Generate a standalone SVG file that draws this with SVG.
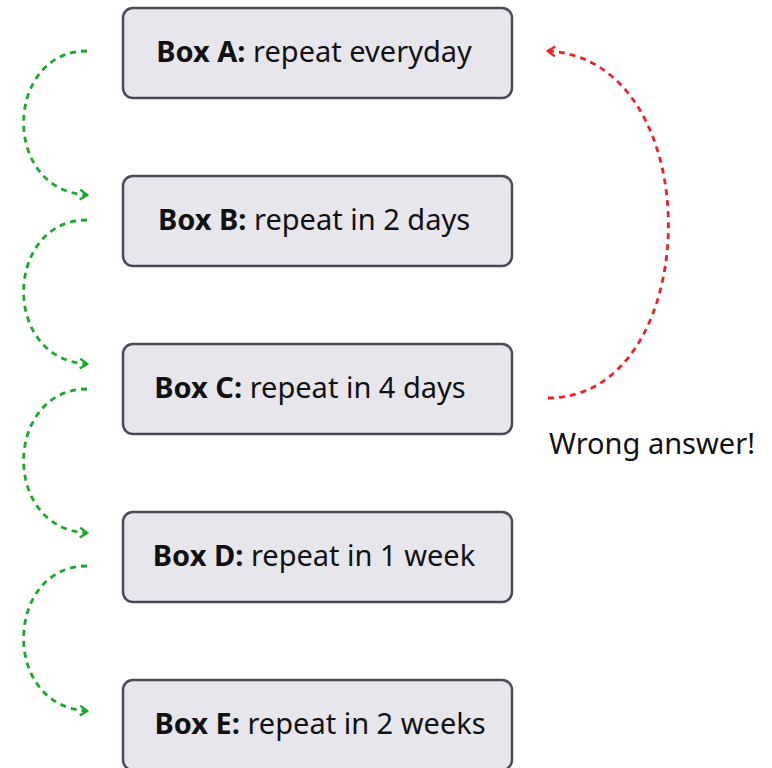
<svg xmlns="http://www.w3.org/2000/svg" width="772" height="768" viewBox="0 0 772 768">
  <style>
    .box rect { fill: #e7e6ed; stroke: #4e4756; stroke-width: 2.5; }
    .box text { font-family: "Noto Sans", "Open Sans", sans-serif; font-size: 29px; fill: #111; text-anchor: middle; }
    .box text .b { font-weight: bold; }
    .ok { fill: none; stroke: #1aa82a; stroke-width: 2.8; stroke-dasharray: 6 5; }
    .bad { fill: none; stroke: #f0202a; stroke-width: 2.8; stroke-dasharray: 6 5; }
    .note { font-family: "Noto Sans", "Open Sans", sans-serif; font-size: 29px; fill: #111; }
  </style>
  <defs>
    <marker id="headG" viewBox="0 0 12 12" refX="10" refY="6" markerWidth="12" markerHeight="12" markerUnits="userSpaceOnUse" orient="auto">
      <path d="M3,1 L10,6 L3,11" fill="none" stroke="#1aa82a" stroke-width="2.4"/>
    </marker>
    <marker id="headR" viewBox="0 0 12 12" refX="10" refY="6" markerWidth="12" markerHeight="12" markerUnits="userSpaceOnUse" orient="auto">
      <path d="M3,1 L10,6 L3,11" fill="none" stroke="#f0202a" stroke-width="2.4"/>
    </marker>
  </defs>

  <g id="connectors">
    <path class="ok" d="M87,51 C5,51 0,190 87,195" marker-end="url(#headG)"/>
    <path class="ok" d="M87,220 C5,220 0,359 87,364" marker-end="url(#headG)"/>
    <path class="ok" d="M87,389 C5,389 0,528 87,533" marker-end="url(#headG)"/>
    <path class="ok" d="M87,566 C5,566 0,706 87,711" marker-end="url(#headG)"/>
    <path class="bad" d="M548,398 C705,398 712,60 548,51" marker-end="url(#headR)"/>
  </g>

  <g id="boxA" class="box">
    <rect x="123" y="8" width="389" height="90" rx="10"/>
    <text x="314" y="62"><tspan class="b">Box A:</tspan> repeat everyday</text>
  </g>
  <g id="boxB" class="box">
    <rect x="123" y="176" width="389" height="90" rx="10"/>
    <text x="314" y="230"><tspan class="b">Box B:</tspan> repeat in 2 days</text>
  </g>
  <g id="boxC" class="box">
    <rect x="123" y="344" width="389" height="90" rx="10"/>
    <text x="310" y="398"><tspan class="b">Box C:</tspan> repeat in 4 days</text>
  </g>
  <g id="boxD" class="box">
    <rect x="123" y="512" width="389" height="90" rx="10"/>
    <text x="314" y="566"><tspan class="b">Box D:</tspan> repeat in 1 week</text>
  </g>
  <g id="boxE" class="box">
    <rect x="123" y="680" width="389" height="90" rx="10"/>
    <text x="320" y="734"><tspan class="b">Box E:</tspan> repeat in 2 weeks</text>
  </g>

  <text class="note" x="549" y="454">Wrong answer!</text>
</svg>
